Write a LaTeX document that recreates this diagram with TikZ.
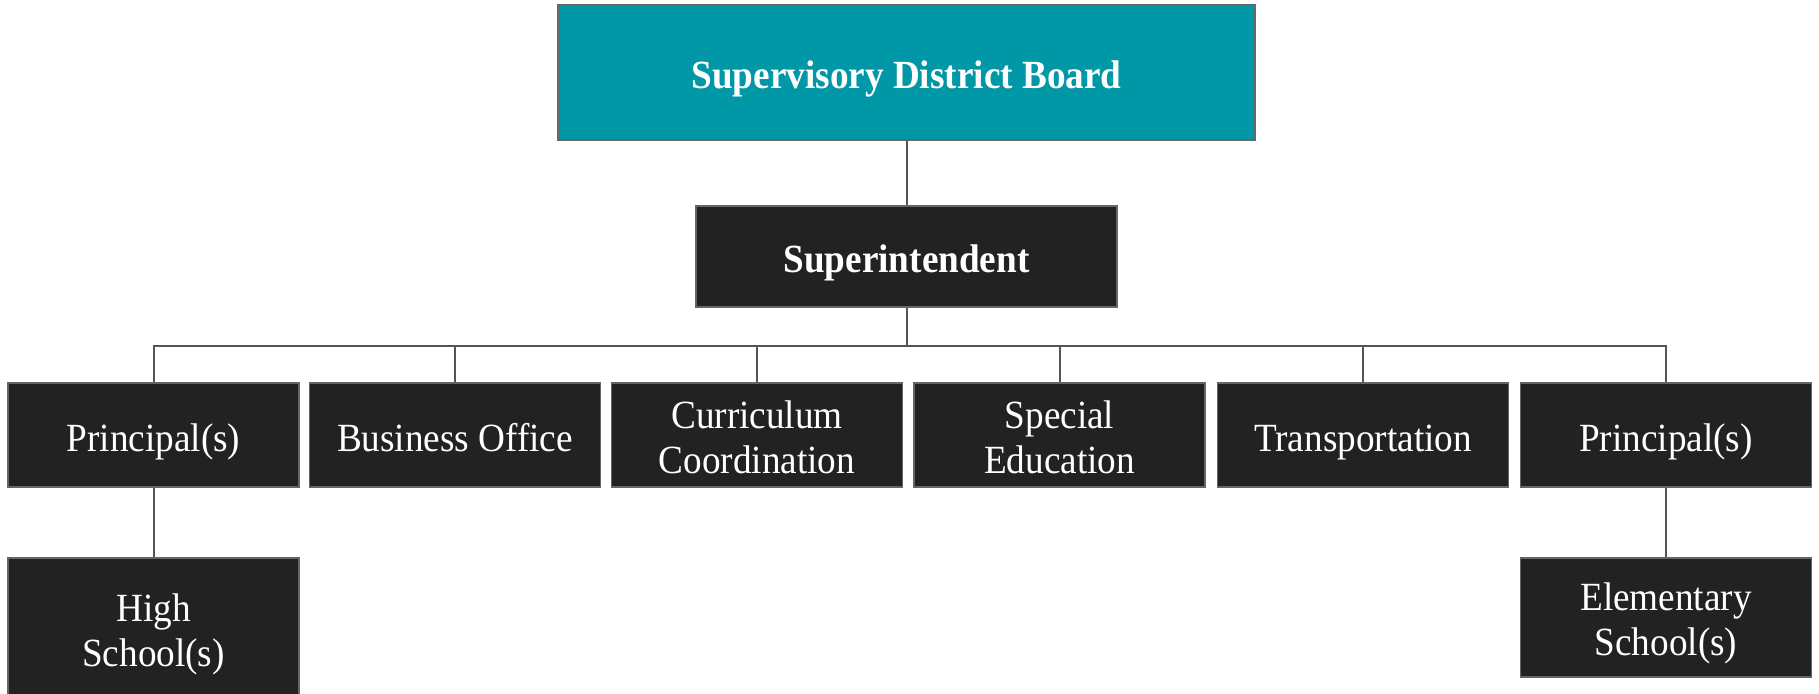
\documentclass[tikz,border=0pt]{standalone}
\usepackage{fontspec}
\setmainfont{Liberation Serif}[FakeStretch=0.93]
\definecolor{teal}{HTML}{0097A7}
\definecolor{boxdark}{HTML}{222222}
\definecolor{edge}{HTML}{666666}
\definecolor{wire}{HTML}{555555}

\begin{document}
\begin{tikzpicture}[x=1pt,y=1pt,
    box/.style={draw=edge,line width=1.5pt,fill=boxdark,text=white,align=center,
        minimum width=291pt,minimum height=104pt,inner sep=0pt,
        text height=32pt,text depth=0pt,
        font=\fontsize{40}{45}\selectfont},
    twoline/.style={box,text height=76pt},
    headbox/.style={box,font=\fontsize{40}{45}\selectfont\bfseries},
    link/.style={draw=wire,line width=2pt}]
            \useasboundingbox (0,0) rectangle (1819,-693);
            \clip (0,0) rectangle (1819,-693);
            \node[headbox,fill=teal,minimum width=697pt,minimum height=135pt] (board) at (906.5,-72.5) {Supervisory District Board};
            \node[headbox,minimum width=421pt,minimum height=101pt] (super) at (906.5,-256.5) {Superintendent};
            \node[box] (prinA) at (153.5,-435) {Principal(s)};
            \node[box] (office) at (455,-435) {Business Office};
            \node[twoline] (curric) at (757,-435) {Curriculum\\Coordination};
            \node[twoline] (sped) at (1059.5,-435) {Special\\Education};
            \node[box] (transp) at (1363,-435) {Transportation};
            \node[box] (prinB) at (1666,-435) {Principal(s)};
            \node[twoline,minimum height=140pt] (high) at (153.5,-628) {High\\School(s)};
            \node[twoline,minimum height=119pt] (elem) at (1666,-617.5) {Elementary\\School(s)};
            \coordinate (bus) at (906.5,-346);
            \draw[link] (board) -- (super);
            \draw[link] (super) -- (bus);
            \foreach \n in {prinA,office,curric,sped,transp,prinB}
                \draw[link] (bus) -| (\n);
            \draw[link] (prinA) -- (high);
            \draw[link] (prinB) -- (elem);
        \end{tikzpicture}
\end{document}
